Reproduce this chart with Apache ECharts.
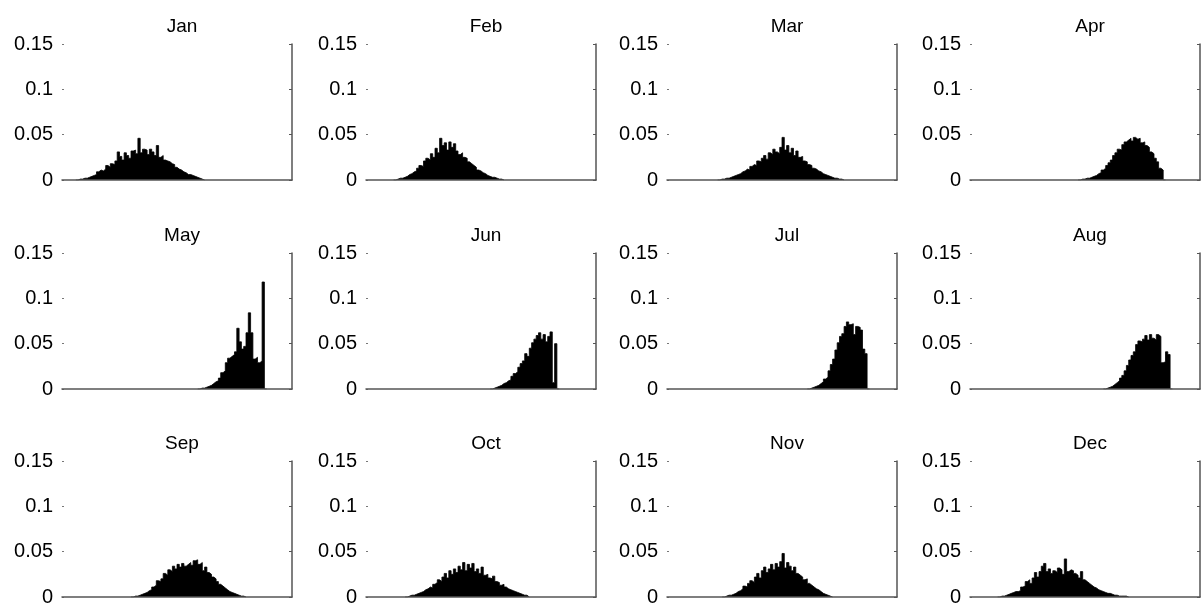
<!DOCTYPE html>
<html><head><meta charset="utf-8">
<script src="https://cdn.jsdelivr.net/npm/echarts@6/dist/echarts.min.js"></script>
<style>html,body{margin:0;padding:0;background:#fff}#c{width:1201px;height:608px}</style>
</head><body><div id="c"></div>
<script>
const months = ['Jan','Feb','Mar','Apr','May','Jun','Jul','Aug','Sep','Oct','Nov','Dec'];
const nBins = 100;
const yTicks = [0, 0.05, 0.1, 0.15];
// first non-empty bin of each month's histogram
const startBins = [7, 13, 23, 48, 60, 55, 62, 59, 31, 18, 25, 13];

const jan = [0.001,0.001,0.002,0.002,0.003,0.004,
  0.005,0.006,0.009,0.011,0.010, 0.012,0.016,0.014,0.018,0.017,
  0.021,0.031,0.026,0.022,0.030, 0.027,0.024,0.032,0.033,0.029,
  0.046,0.030,0.034,0.033,0.028, 0.034,0.031,0.027,0.038,0.025,
  0.027,0.022,0.021,0.020,0.018, 0.017,0.014,0.012,0.011,0.009,
  0.008,0.006,0.006,0.005,0.004, 0.003,0.002,0.001];
const feb = [0.001,0.002,0.002,0.003,0.004, 0.006,0.007,0.009,0.010,0.013,
  0.016,0.015,0.021,0.024,0.022, 0.029,0.025,0.035,0.030,0.046,
  0.038,0.041,0.033,0.042,0.036, 0.040,0.032,0.028,0.030,0.025,
  0.024,0.020,0.018,0.016,0.014, 0.011,0.010,0.008,0.007,0.005,
  0.004,0.003,0.003,0.002,0.001,0.001];
const mar = [0.001,0.001,0.002,0.002,0.003, 0.004,0.005,0.006,0.007,0.009,
  0.010,0.012,0.011,0.015,0.017, 0.016,0.021,0.020,0.024,0.027,
  0.023,0.030,0.028,0.034,0.031, 0.029,0.036,0.047,0.033,0.038,
  0.030,0.035,0.027,0.032,0.025, 0.026,0.021,0.020,0.017,0.016,
  0.013,0.012,0.010,0.009,0.007, 0.006,0.005,0.004,0.003,0.002,
  0.002,0.001,0.001];
const apr = [0.001,0.001,0.002,0.002,0.003, 0.004,0.005,0.007,0.008,0.011,
  0.013,0.016,0.019,0.022,0.027, 0.030,0.034,0.033,0.039,0.042,
  0.044,0.046,0.043,0.047,0.045, 0.046,0.041,0.042,0.038,0.036,
  0.031,0.029,0.024,0.020,0.013,0.011];
const may = [0.001,0.001,0.002,0.003,0.004, 0.006,0.008,0.009,0.012,0.018,
  0.020,0.029,0.034,0.036,0.038, 0.041,0.067,0.052,0.044,0.047,
  0.062,0.084,0.062,0.033,0.035, 0.029,0.031,0.118];
const jun = [0.001,0.002,0.003,0.004,0.006, 0.007,0.009,0.010,0.014,0.017,
  0.019,0.024,0.028,0.031,0.039, 0.036,0.045,0.051,0.055,0.059,
  0.062,0.055,0.060,0.052,0.058, 0.063,0.007,0.050];
const jul = [0.001,0.002,0.003,0.004,0.006, 0.008,0.011,0.013,0.020,0.027,
  0.033,0.043,0.051,0.058,0.061, 0.069,0.074,0.071,0.072,0.060,
  0.069,0.068,0.065,0.044,0.039];
const aug = [0.001,0.002,0.003,0.005,0.007, 0.009,0.012,0.015,0.020,0.026,
  0.032,0.037,0.041,0.049,0.053, 0.052,0.055,0.059,0.054,0.060,
  0.056,0.054,0.060,0.058,0.029, 0.030,0.041,0.038];
const sep = [0.001,0.001,0.002,0.003,0.004, 0.005,0.007,0.008,0.011,0.013,
  0.018,0.017,0.020,0.026,0.024, 0.030,0.028,0.034,0.031,0.036,
  0.033,0.037,0.034,0.036,0.038, 0.035,0.040,0.041,0.036,0.038,
  0.029,0.033,0.027,0.025,0.022, 0.020,0.017,0.014,0.012,0.010,
  0.008,0.006,0.005,0.004,0.003, 0.002,0.001,0.001];
const oct = [0.001,0.002,0.002,0.003, 0.004,0.005,0.006,0.008,0.009,
  0.011,0.010,0.014,0.016,0.019, 0.017,0.022,0.026,0.021,0.029,
  0.025,0.031,0.027,0.034,0.030, 0.038,0.029,0.036,0.032,0.037,
  0.028,0.031,0.026,0.033,0.024, 0.025,0.021,0.020,0.023,0.017,
  0.016,0.013,0.014,0.011,0.009, 0.008,0.007,0.006,0.005,0.004,
  0.003,0.002,0.002];
const nov = [0.001,0.002,0.002,0.003,0.004, 0.006,0.007,0.009,0.012,0.011,
  0.015,0.018,0.016,0.022,0.026, 0.021,0.029,0.033,0.027,0.031,
  0.036,0.030,0.037,0.033,0.039, 0.048,0.032,0.038,0.034,0.029,
  0.033,0.026,0.024,0.022,0.019, 0.020,0.015,0.013,0.011,0.009,
  0.008,0.006,0.004,0.003,0.002, 0.001];
const dec = [0.001,0.001,0.002,0.003,0.004, 0.005,0.006,0.006,0.007,0.011,
  0.012,0.017,0.019,0.015,0.021, 0.027,0.022,0.028,0.034,0.037,
  0.028,0.031,0.026,0.029,0.027, 0.032,0.030,0.025,0.042,0.028,
  0.030,0.029,0.026,0.024,0.021, 0.028,0.019,0.017,0.015,0.013,
  0.011,0.010,0.008,0.007,0.006, 0.005,0.004,0.004,0.003,0.002,
  0.002,0.001,0.001,0.001,0.001];
const monthValues = [jan, feb, mar, apr, may, jun, jul, aug, sep, oct, nov, dec];

// layout (pixels)
const colLeft = [62, 366, 667, 970];
const rowTop = [44, 253, 461];
const plotW = 230, plotH = 136;
const FONT = '"Liberation Sans", Arial, Helvetica, sans-serif';
const axisColor = '#555';

const cats = Array.from({length: nBins}, (_, k) => String(k));

const chart = echarts.init(document.getElementById('c'), null, {renderer: 'canvas'});
const grid = [], xAxis = [], yAxis = [], series = [], title = [];
months.forEach((m, i) => {
  const r = Math.floor(i / 4), c = i % 4;
  const vals = monthValues[i];
  const s0 = startBins[i];
  const full = Array.from({length: nBins}, () => '-');
  // zero neighbours so the step outline closes at the bin edges
  if (s0 - 1 >= 0) full[s0 - 1] = 0;
  if (s0 + vals.length < nBins) full[s0 + vals.length] = 0;
  vals.forEach((v, k) => { full[s0 + k] = v; });
  grid.push({left: colLeft[c], top: rowTop[r], width: plotW, height: plotH});
  xAxis.push({type: 'category', gridIndex: i, data: cats, boundaryGap: true,
    axisLine: {show: true, onZero: false, lineStyle: {color: axisColor, width: 1.5}},
    axisTick: {show: false}, axisLabel: {show: false}, splitLine: {show: false}, z: 5});
  yAxis.push({type: 'value', gridIndex: i, min: yTicks[0], max: yTicks[yTicks.length - 1], interval: 0.05,
    position: 'left', axisLine: {show: false},
    axisTick: {show: true, inside: true, length: 2, lineStyle: {color: '#777'}},
    axisLabel: {color: '#000', fontSize: 20, fontFamily: FONT, margin: 9},
    splitLine: {show: false}});
  yAxis.push({type: 'value', gridIndex: i, min: yTicks[0], max: yTicks[yTicks.length - 1], interval: 0.05,
    position: 'right', axisLine: {show: true, lineStyle: {color: axisColor, width: 1.5}},
    axisTick: {show: true, inside: true, length: 3, lineStyle: {color: axisColor}},
    axisLabel: {show: false}, splitLine: {show: false}});
  series.push({type: 'line', xAxisIndex: i, yAxisIndex: 2 * i, data: full,
    step: 'middle', symbol: 'none', silent: true, z: 1, connectNulls: false,
    lineStyle: {color: '#000', width: 0.8},
    areaStyle: {color: '#000', opacity: 1, origin: 'start'}});
  title.push({text: m, left: colLeft[c] + plotW / 2, top: rowTop[r] - 32, textAlign: 'center',
    textStyle: {color: '#000', fontSize: 19, fontWeight: 'normal', fontFamily: FONT}});
});

chart.setOption({animation: false, backgroundColor: '#fff', title, grid, xAxis, yAxis, series});
</script></body></html>
